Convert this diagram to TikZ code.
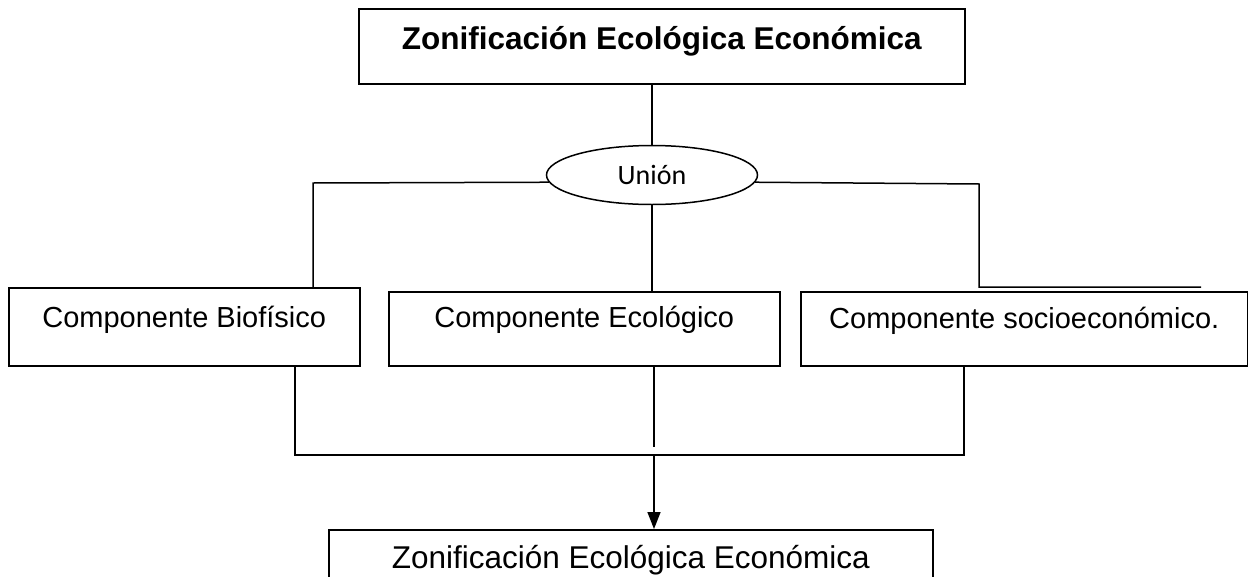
\documentclass[tikz,border=0pt]{standalone}
\usepackage{fontspec}
\setmainfont{Liberation Sans}
\newfontfamily\carlito{Carlito}
\usetikzlibrary{shapes.geometric,arrows.meta}
\tikzset{
  box/.style={draw, line width=1.5pt, inner sep=0pt, anchor=north west,
    font=\fontsize{29}{33}\selectfont},
  conn/.style={line width=1.5pt},
}
\begin{document}
\begin{tikzpicture}[x=1pt,y=-1pt]
\useasboundingbox (0,0) rectangle (1248,576);
\clip (0,0) rectangle (1248,576);
% boxes
\node[box, minimum width=606pt, text height=41pt, text depth=34pt,
  font=\bfseries\fontsize{31.5}{36}\selectfont] (top) at (358,8) {Zonificación Ecológica Económica};
\node[ellipse, draw, line width=1.5pt, minimum width=211pt, minimum height=59pt, inner sep=0pt,
  font=\carlito\fontsize{28}{30}\selectfont] (uni) at (652,175) {Unión};
\node[box, minimum width=351pt, text height=40pt, text depth=38pt] (b1) at (8,287) {Componente Biofísico};
\node[box, minimum width=391pt, text height=36pt, text depth=38pt] (b2) at (388,291) {Componente Ecológico};
\node[box, minimum width=447pt, text height=37pt, text depth=37pt] (b3) at (800,291) {Componente socioeconómico.};
\node[box, minimum width=604pt, text height=39pt, text depth=60pt,
  font=\fontsize{31.5}{36}\selectfont] (bot) at (328,529) {Zonificación Ecológica Económica};
% coordinates
\coordinate (cl) at (313,183);
\coordinate (cr) at (979,184);
\coordinate (cre) at (1201,287);
\coordinate (hl) at (295,455);
\coordinate (hr) at (964,455);
\coordinate (hm) at (654,455);
\coordinate (mg) at (654,447);
% connectors
\draw[conn] (top.south -| uni.north) -- (uni.north);
\draw[conn] (uni.184.5) -- (cl) -- (cl |- b1.north);
\draw[conn] (uni.-4.5) -- (cr) -- (cr |- cre) -- (cre);
\draw[conn] (uni.south) -- (uni.south |- b2.north);
\draw[conn] (b1.south -| hl) -- (hl) -- (hr) -- (b3.south -| hr);
\draw[conn] (b2.south -| mg) -- (mg);
\draw[conn, -{Triangle[length=17pt,width=13pt]}] (hm) -- (hm |- bot.north);
\end{tikzpicture}
\end{document}
